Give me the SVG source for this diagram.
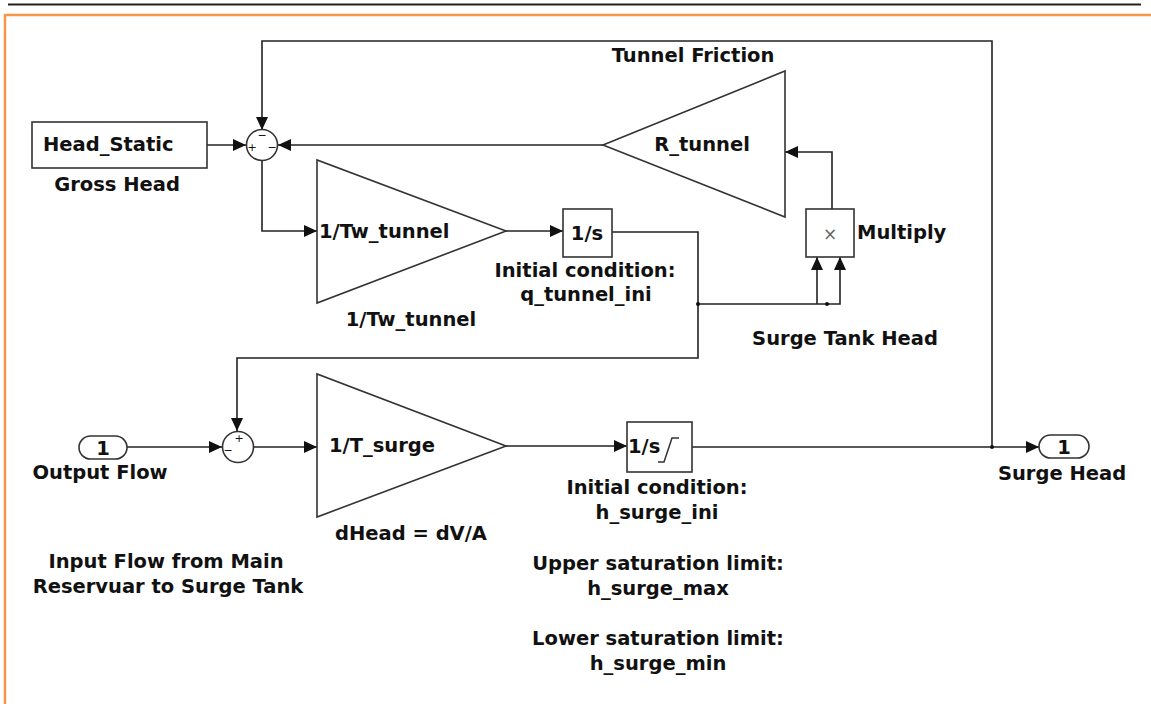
<svg xmlns="http://www.w3.org/2000/svg" width="1151" height="704" viewBox="0 0 1151 704">
<defs>
<marker id="arr" markerUnits="userSpaceOnUse" markerWidth="13" markerHeight="12" refX="13" refY="6" orient="auto">
<path d="M0,0 L13,6 L0,12 z" fill="#111"/>
</marker>
<style>
.t{font-family:"DejaVu Sans","Liberation Sans",sans-serif;font-weight:bold;font-size:19.5px;fill:#111}
.m{text-anchor:middle}
.blk{fill:#fff;stroke:#333;stroke-width:1.6}
.ln{fill:none;stroke:#222;stroke-width:1.6}
.sg{font-family:"DejaVu Sans",sans-serif;font-size:11px;fill:#111;text-anchor:middle}
</style>
</defs>
<rect width="1151" height="704" fill="#fff"/>
<line x1="8" y1="4.5" x2="1141" y2="4.5" stroke="#222" stroke-width="2"/>
<polyline points="5,704 5,15 1151,15" fill="none" stroke="#f79646" stroke-width="2.5"/>

<g id="connectors">
<polyline class="ln" points="207,145 246,145" marker-end="url(#arr)"/>
<polyline class="ln" points="992,447 992,41 262,41 262,130" marker-end="url(#arr)"/>
<polyline class="ln" points="603,145 278,145" marker-end="url(#arr)"/>
<polyline class="ln" points="262,161 262,231 317,231" marker-end="url(#arr)"/>
<polyline class="ln" points="506,231 563,231" marker-end="url(#arr)"/>
<polyline class="ln" points="612,232 698,232 698,358 237,358 237,431" marker-end="url(#arr)"/>
<polyline class="ln" points="698,304 840,304 840,257" marker-end="url(#arr)"/>
<polyline class="ln" points="817,304 817,257" marker-end="url(#arr)"/>
<polyline class="ln" points="832,209 832,152 785,152" marker-end="url(#arr)"/>
<polyline class="ln" points="127,447 222,447" marker-end="url(#arr)"/>
<polyline class="ln" points="254,447 317,447" marker-end="url(#arr)"/>
<polyline class="ln" points="506,446 627,446" marker-end="url(#arr)"/>
<polyline class="ln" points="692,447 1039,447" marker-end="url(#arr)"/>
<circle cx="698" cy="304" r="2" fill="#111"/>
<circle cx="827" cy="304" r="2" fill="#111"/>
<circle cx="992" cy="447" r="2" fill="#111"/>
</g>

<g id="head_static">
<rect class="blk" x="32" y="122" width="175" height="46"/>
<text class="t" x="43" y="151">Head_Static</text>
<text class="t m" x="117" y="191">Gross Head</text>
</g>

<g id="sum1">
<circle class="blk" cx="262" cy="145" r="15.5"/>
<text class="sg" x="262" y="139">−</text>
<text class="sg" x="252" y="151">+</text>
<text class="sg" x="272" y="151">−</text>
</g>

<g id="r_tunnel">
<polygon class="blk" points="785,71 785,217 603,145"/>
<text class="t m" x="702" y="151">R_tunnel</text>
<text class="t m" x="693" y="62">Tunnel Friction</text>
</g>

<g id="gain_tw">
<polygon class="blk" points="317,160 317,303 506,231"/>
<text class="t" x="319" y="238">1/Tw_tunnel</text>
<text class="t m" x="411" y="326">1/Tw_tunnel</text>
</g>

<g id="integrator_q">
<rect class="blk" x="563" y="209" width="49" height="48"/>
<text class="t m" x="587" y="240">1/s</text>
<text class="t m" x="585" y="277">Initial condition:</text>
<text class="t m" x="586" y="301">q_tunnel_ini</text>
</g>

<g id="multiply">
<rect class="blk" x="806" y="209" width="48" height="48"/>
<text x="830" y="240" text-anchor="middle" font-family="DejaVu Sans,sans-serif" font-size="17" fill="#666">×</text>
<text class="t" x="857" y="239">Multiply</text>
<text class="t m" x="845" y="345">Surge Tank Head</text>
</g>

<g id="in_port">
<rect class="blk" x="79" y="436" width="48" height="23" rx="11.5"/>
<text class="t m" x="103" y="455">1</text>
<text class="t m" x="100" y="479">Output Flow</text>
<text class="t m" x="166" y="568">Input Flow from Main</text>
<text class="t m" x="168" y="593">Reservuar to Surge Tank</text>
</g>

<g id="sum2">
<circle class="blk" cx="238" cy="447" r="15.5"/>
<text class="sg" x="239" y="442">+</text>
<text class="sg" x="228" y="454">−</text>
</g>

<g id="gain_surge">
<polygon class="blk" points="317,374 317,517 506,446"/>
<text class="t" x="329" y="452">1/T_surge</text>
<text class="t m" x="411" y="540">dHead = dV/A</text>
</g>

<g id="integrator_h">
<rect class="blk" x="627" y="422" width="65" height="50"/>
<text class="t" x="628" y="453">1/s</text>
<polyline points="658,462 664,462 672,438 679,438" fill="none" stroke="#333" stroke-width="1.5"/>
<text class="t m" x="657" y="494">Initial condition:</text>
<text class="t m" x="657" y="519">h_surge_ini</text>
<text class="t m" x="658" y="570">Upper saturation limit:</text>
<text class="t m" x="658" y="595">h_surge_max</text>
<text class="t m" x="658" y="645">Lower saturation limit:</text>
<text class="t m" x="658" y="670">h_surge_min</text>
</g>

<g id="out_port">
<rect class="blk" x="1039" y="435" width="50" height="23" rx="11.5"/>
<text class="t m" x="1064" y="454">1</text>
<text class="t m" x="1062" y="480">Surge Head</text>
</g>
</svg>
